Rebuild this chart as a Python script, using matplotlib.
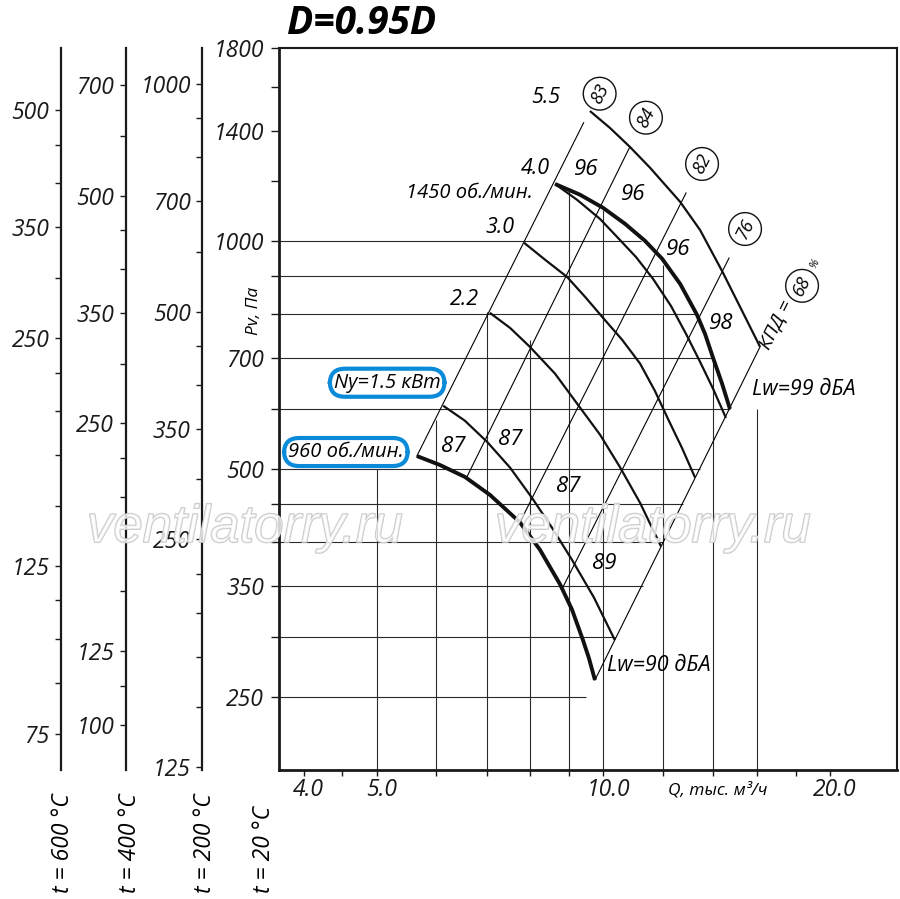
import os
import math
import matplotlib
matplotlib.use('Agg')
import matplotlib.pyplot as plt
from matplotlib import font_manager as fm
from matplotlib.ticker import NullLocator
import matplotlib.patheffects as pe
import matplotlib.transforms as mtransforms

# ------------------------------------------------------------------ data
q_ticks = [4, 4.5, 5, 6, 7, 8, 9, 10, 12, 14, 16, 18, 20]
q_ticklabels = ['4.0', '', '5.0', '', '', '', '', '10.0', '', '', '', '', '20.0']
p_ticks = [1800, 1600, 1400, 1200, 1000, 900, 800, 700, 600, 500, 450, 400, 350, 300, 250]
p_labelled = [1800, 1400, 1000, 700, 500, 350, 250]

temps = [200, 400, 600]
t200_ticks = [1000, 900, 800, 700, 600, 500, 450, 400, 350, 300, 250, 225, 200, 175, 150, 125]
t200_labelled = [1000, 700, 500, 350, 250, 125]
t400_ticks = [700, 600, 500, 450, 400, 350, 300, 250, 225, 200, 175, 150, 125, 112.5, 100]
t400_labelled = [700, 500, 350, 250, 125, 100]
t600_ticks = [500, 450, 400, 350, 300, 250, 225, 200, 175, 150, 125, 112.5, 100, 87.5, 75]
t600_labelled = [500, 350, 250, 125, 75]

# grid segments (pressure lines end at Q, flow lines end at P)
hgrid_p = [1000, 900, 800, 700, 600, 500, 450, 400, 350, 300, 250]
hgrid_q_end = [11.22, 12.0, 13.32, 14.0, 14.73, 13.44, 12.76, 12.0, 11.29, 10.38, 9.49]
vgrid_q = [5, 6, 7, 8, 9, 10, 12, 14, 16]
vgrid_p_top = [500, 581, 807, 741, 1175, 1100, 930, 700, 600]

# fan curves, thick (speed)
n1450_q = [8.63, 9.31, 9.99, 10.69, 11.36, 11.97, 12.65, 13.32, 13.65, 13.99, 14.38, 14.73]
n1450_p = [1190, 1152, 1107, 1054, 1001, 948, 878, 799, 754, 701, 648, 600]
n960_q = [5.656, 6.069, 6.550, 7.072, 7.750, 8.239, 8.761, 9.087, 9.398, 9.572, 9.749]
n960_p = [520, 506, 488, 462, 425, 391, 352, 326, 297, 281, 263]

# fan curves, thin (motor power, kW)
kw55_q = [9.60, 10.21, 10.85, 11.54, 12.65, 13.44, 14.38, 15.19, 16.15]
kw55_p = [1486, 1411, 1332, 1250, 1127, 1035, 913, 819, 725]
kw40_q = [8.63, 9.23, 9.90, 10.46, 11.05, 11.64, 12.30, 12.88, 13.44, 13.99, 14.55]
kw40_p = [1190, 1134, 1070, 1010, 953, 892, 821, 754, 693, 638, 584]
kw30_q = [7.85, 8.37, 8.95, 9.46, 9.99, 10.59, 11.19, 11.71, 12.19, 12.72, 13.24]
kw30_p = [995, 945, 897, 844, 792, 741, 689, 634, 582, 533, 487]
kw22_q = [7.07, 7.52, 7.99, 8.63, 9.23, 9.90, 10.52, 11.19, 11.93]
kw22_p = [804, 768, 725, 668, 610, 555, 503, 451, 395]
kw15_q = [6.13, 6.55, 7.01, 7.52, 8.04, 8.55, 9.09, 9.72, 10.36]
kw15_p = [606, 579, 543, 502, 458, 418, 379, 338, 297]

# efficiency rays (P ~ Q^2)
ray_eff = ['83', '84', '82', '76', '68']
ray_q_lo = [5.656, 6.591, 7.750, 8.841, 9.749]
ray_p_lo = [520, 488, 425, 349, 263]
ray_q_hi = [9.418, 10.85, 12.88, 14.69, 16.15]
ray_p_hi = [1434, 1333, 1158, 950, 725]

# noise values in the cells
cell_text = ['96', '96', '96', '98', '87', '87', '87', '89']
cell_q = [9.50, 10.96, 12.58, 14.32, 6.32, 7.52, 8.99, 10.03]
cell_p = [1245, 1151, 974, 779, 535, 546, 474, 375]

# ------------------------------------------------------------------ fonts
def pick_font(cands, weight='normal'):
    for fam in cands:
        try:
            path = fm.findfont(fm.FontProperties(family=fam, style='italic', weight=weight),
                               fallback_to_default=False)
        except Exception:
            continue
        base = os.path.basename(path).lower()
        name = fm.FontProperties(fname=path).get_name()
        if name == fam and ('italic' in base or 'oblique' in base or '-it' in base):
            return fam
    return 'DejaVu Sans'

FAM = pick_font(['Open Sans', 'Lato', 'Noto Sans', 'Roboto', 'Liberation Sans'])
FAMB = pick_font(['Open Sans', 'Lato', 'Noto Sans', 'Roboto', 'Liberation Sans'], 'bold')
FAMW = pick_font(['Liberation Sans', 'Open Sans', 'Roboto'])

def fp(size, weight='normal', fam=None):
    return fm.FontProperties(family=[fam or FAM, 'DejaVu Sans'], style='italic',
                             weight=weight, size=size)

# ------------------------------------------------------------------ layout
W, H = 900, 899
fig = plt.figure(figsize=(W / 100, H / 100), dpi=100)
fig.patch.set_facecolor('white')

ax_l, ax_r, ax_t, ax_b = 278.5, 896.5, 48, 770
ax = fig.add_axes([ax_l / W, 1 - ax_b / H, (ax_r - ax_l) / W, (ax_b - ax_t) / H])
ax.set_xscale('log')
ax.set_yscale('log')
ax.set_xlim(3.705, 24.51)
ax.set_ylim(200, 1800)
ax.set_facecolor('none')

for s in ['left', 'bottom']:
    ax.spines[s].set_linewidth(2.0)
for s in ['top', 'right']:
    ax.spines[s].set_linewidth(1.5)
for s in ax.spines.values():
    s.set_color('#1a1a1a')

ax.xaxis.set_minor_locator(NullLocator())
ax.yaxis.set_minor_locator(NullLocator())
ax.set_xticks(q_ticks)
ax.set_xticklabels(q_ticklabels, fontproperties=fp(16.5))
ax.set_yticks(p_ticks)
ax.set_yticklabels([str(v) if v in p_labelled else '' for v in p_ticks], fontproperties=fp(16.5))
ax.tick_params(axis='x', direction='out', length=4, width=1, pad=2, colors='#1a1a1a')
ax.tick_params(axis='y', direction='out', length=5.5, width=1, pad=5, colors='#1a1a1a')
shift = mtransforms.ScaledTranslation(5 / 100, 0, fig.dpi_scale_trans)
for lbl in ax.get_xticklabels():
    lbl.set_transform(lbl.get_transform() + shift)

# temperature scales
temp_axis_px = [202.3, 125.7, 61.0]
temp_tick_sets = [(t200_ticks, t200_labelled), (t400_ticks, t400_labelled), (t600_ticks, t600_labelled)]
for t, xpx, (ticks, labelled) in zip(temps, temp_axis_px, temp_tick_sets):
    f = (273 + 20) / (273 + t)
    tax = fig.add_axes([xpx / W, 1 - ax_b / H, 0.0005, (ax_b - ax_t) / H])
    tax.set_yscale('log')
    tax.set_ylim(200 * f, 1800 * f)
    tax.set_facecolor('none')
    for s in ['top', 'right', 'bottom']:
        tax.spines[s].set_visible(False)
    tax.spines['left'].set_linewidth(1.6)
    tax.spines['left'].set_color('#1a1a1a')
    tax.set_xticks([])
    tax.yaxis.set_minor_locator(NullLocator())
    tax.set_yticks(ticks)
    tax.set_yticklabels([('%g' % v) if v in labelled else '' for v in ticks], fontproperties=fp(16.5))
    tax.tick_params(axis='y', direction='out', length=4.3, width=1, pad=4, colors='#1a1a1a')

# grid
x0 = ax.get_xlim()[0]
ax.hlines(hgrid_p, [x0] * len(hgrid_p), hgrid_q_end, colors='#2a2a2a', linewidth=0.8, zorder=1)
ax.vlines(vgrid_q, [200] * len(vgrid_q), vgrid_p_top, colors='#2a2a2a', linewidth=0.8, zorder=1)

# efficiency rays
for ql, pl, qh, ph in zip(ray_q_lo, ray_p_lo, ray_q_hi, ray_p_hi):
    ax.plot([ql, qh], [pl, ph], color='black', linewidth=0.8, zorder=2)

# curves
thin_kw = dict(color='#111111', linewidth=1.6, solid_joinstyle='round', solid_capstyle='butt', zorder=3)
thick_kw = dict(color='#111111', linewidth=2.8, solid_joinstyle='round', solid_capstyle='butt', zorder=4)
for qq, pp in [(kw55_q, kw55_p), (kw40_q, kw40_p), (kw30_q, kw30_p), (kw22_q, kw22_p), (kw15_q, kw15_p)]:
    ax.plot(qq, pp, **thin_kw)
ax.plot(n1450_q, n1450_p, **thick_kw)
ax.plot(n960_q, n960_p, **thick_kw)

# ray angle in display space
d0 = ax.transData.transform((ray_q_lo[0], ray_p_lo[0]))
d1 = ax.transData.transform((ray_q_hi[0], ray_p_hi[0]))
ang = math.degrees(math.atan2(d1[1] - d0[1], d1[0] - d0[0]))

# circled efficiency labels
circ = dict(boxstyle='circle,pad=0.36', fc='white', ec='#111111', lw=1.0)
for i, lab in enumerate(ray_eff[:4]):
    ax.annotate(lab, xy=(ray_q_hi[i], ray_p_hi[i]), xytext=(16, 29), textcoords='offset pixels',
                ha='center', va='center', rotation=ang, rotation_mode='anchor',
                fontproperties=fp(13), zorder=6, bbox=circ)
ax.annotate('КПД =', xy=(ray_q_hi[4], ray_p_hi[4]), xytext=(16, 22), textcoords='offset pixels',
            ha='center', va='center', rotation=ang, rotation_mode='anchor',
            fontproperties=fp(14), zorder=6)
ax.annotate(ray_eff[4], xy=(ray_q_hi[4], ray_p_hi[4]), xytext=(42, 61), textcoords='offset pixels',
            ha='center', va='center', rotation=ang, rotation_mode='anchor',
            fontproperties=fp(13), zorder=6, bbox=circ)
ax.annotate('%', xy=(ray_q_hi[4], ray_p_hi[4]), xytext=(55, 83), textcoords='offset pixels',
            ha='center', va='center', rotation=ang, rotation_mode='anchor',
            fontproperties=fp(8), zorder=6)

# cell values
for txt, q, p in zip(cell_text, cell_q, cell_p):
    ax.text(q, p, txt, ha='center', va='center', fontproperties=fp(16), zorder=6)

# power labels near curve starts
for lab, qq, pp, off in [('5.5', kw55_q, kw55_p, (-44, 13)), ('4.0', kw40_q, kw40_p, (-20, 15)),
                         ('3.0', kw30_q, kw30_p, (-24, 15)), ('2.2', kw22_q, kw22_p, (-25, 13))]:
    ax.annotate(lab, xy=(qq[0], pp[0]), xytext=off, textcoords='offset pixels',
                ha='center', va='center', fontproperties=fp(15.5), zorder=6)

ax.annotate('1450 об./мин.', xy=(n1450_q[0], n1450_p[0]), xytext=(-22, -9), textcoords='offset pixels',
            ha='right', va='center', fontproperties=fp(14.5), zorder=6)

blue = '#0a8ad8'
ax.annotate('Ny=1.5 кВт', xy=(kw15_q[0], kw15_p[0]), xytext=(-56, 23), textcoords='offset pixels',
            ha='center', va='center', fontproperties=fp(14.5), zorder=7,
            bbox=dict(boxstyle='round,pad=0.2,rounding_size=0.75', fc='white', ec=blue, lw=3))
ax.annotate('960 об./мин.', xy=(n960_q[0], n960_p[0]), xytext=(-71, 4), textcoords='offset pixels',
            ha='center', va='center', fontproperties=fp(14.5), zorder=7,
            bbox=dict(boxstyle='round,pad=0.2,rounding_size=0.75', fc='white', ec=blue, lw=3))

ax.annotate('Lw=99 дБА', xy=(n1450_q[-1], n1450_p[-1]), xytext=(22, 19), textcoords='offset pixels',
            ha='left', va='center', fontproperties=fp(15.5), zorder=6)
ax.annotate('Lw=90 дБА', xy=(n960_q[-1], n960_p[-1]), xytext=(12, 15), textcoords='offset pixels',
            ha='left', va='center', fontproperties=fp(15.5), zorder=6)

# axis titles
fig.text(718 / W, 1 - 790 / H, 'Q, тыс. м³/ч', ha='center', va='center', fontproperties=fp(12.5))
fig.text(254 / W, 1 - 311 / H, 'Pv, Па', ha='center', va='center', rotation=90, fontproperties=fp(12.5))
for lab, xpx in [('t = 600 °C', 63), ('t = 400 °C', 130), ('t = 200 °C', 205), ('t = 20 °C', 264.5)]:
    fig.text(xpx / W, 1 - 893 / H, lab, ha='center', va='bottom', rotation=90, fontproperties=fp(16.5))

fig.text(362 / W, 1 - 23 / H, 'D=0.95D', ha='center', va='center', fontproperties=fp(28, 'bold', FAMB))

# watermark
for xpx in [245, 653]:
    fig.text(xpx / W, 1 - 528 / H, 'ventilatorry.ru', ha='center', va='center',
             fontproperties=fp(38, fam=FAMW), color=(1, 1, 1, 0.55), zorder=1.5,
             path_effects=[pe.withStroke(linewidth=1.2, foreground='#c8c8c8')])

fig.savefig('out.png', dpi=100, facecolor='white')
